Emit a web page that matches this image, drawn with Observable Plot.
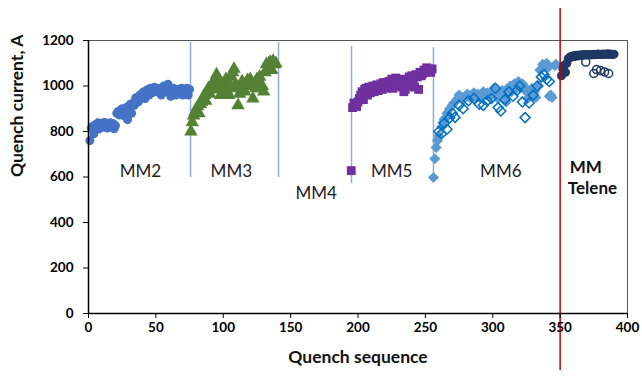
<!DOCTYPE html>
<html>
<head>
<meta charset="utf-8">
<script src="https://cdn.jsdelivr.net/npm/d3@7"></script>
<script src="https://cdn.jsdelivr.net/npm/@observablehq/plot@0.6"></script>
<style>
  body { margin: 0; background: #fff; }
  svg { font-family: Lato, "Open Sans", sans-serif; }
</style>
</head>
<body>
<div id="chart"></div>
<script>
const xTicks = [0, 50, 100, 150, 200, 250, 300, 350, 400];
const yTicks = [0, 200, 400, 600, 800, 1000, 1200];

const mm2 = [[1,760],[2,815],[3,822],[4,790],[5,830],[6,825],[7,838],[8,812],[9,830],[10,836],[11,820],[12,840],[13,828],[14,815],[15,832],[16,838],[17,822],[18,835],[19,812],[20,826],[21,880],[22,888],[23,872],[24,895],[25,900],[26,885],[27,868],[28,905],[29,852],[30,912],[31,920],[32,880],[33,925],[34,915],[35,948],[36,940],[37,930],[38,960],[39,952],[40,968],[41,975],[42,945],[43,978],[44,985],[45,960],[46,990],[47,970],[48,982],[49,995],[50,975],[51,985],[52,972],[53,990],[54,960],[55,995],[56,1000],[57,975],[58,990],[59,1008],[60,985],[61,955],[62,982],[63,990],[64,975],[65,960],[66,985],[67,970],[68,980],[69,990],[70,960],[71,975],[72,965],[73,990],[74,960],[75,985]];

const mm3 = [[76,800],[77,840],[78,870],[79,885],[80,895],[81,910],[82,880],[83,920],[84,930],[85,945],[86,960],[87,935],[88,975],[89,990],[90,965],[91,1000],[92,1010],[93,985],[94,1030],[95,1050],[96,1020],[97,985],[98,960],[99,1005],[100,995],[101,1015],[102,1030],[103,975],[104,960],[105,1000],[106,1040],[107,1060],[108,1075],[109,1010],[110,990],[111,915],[112,965],[113,1000],[114,1020],[115,1010],[116,975],[117,1000],[118,1025],[119,1010],[120,1030],[121,1000],[122,945],[123,1010],[124,990],[125,1030],[126,1020],[127,1040],[128,990],[129,1000],[130,975],[131,1060],[132,1095],[133,1080],[134,1100],[135,1105],[136,1070],[137,1110],[138,1095],[139,1100]];

const mm5 = [[195,628],[196,905],[197,925],[198,915],[199,910],[200,930],[201,945],[202,960],[203,975],[204,940],[205,985],[206,990],[207,960],[208,995],[209,970],[210,985],[211,1000],[212,975],[213,990],[214,1005],[215,980],[216,1000],[217,1010],[218,985],[219,1015],[220,1000],[221,990],[222,1015],[223,1020],[224,1005],[225,1030],[226,990],[227,1020],[228,1035],[229,1010],[230,1025],[231,1000],[232,1030],[233,995],[234,975],[235,985],[236,1000],[237,1010],[238,1040],[239,1025],[240,1045],[241,1020],[242,995],[243,1050],[244,1040],[245,985],[246,1060],[247,1045],[248,1055],[249,1070],[250,1060],[251,1080],[252,1065],[253,1075],[254,1060],[255,1075]];

const mm6Filled = [[256,598],[257,680],[258,730],[259,760],[260,780],[262,820],[263,840],[264,855],[266,880],[267,870],[268,900],[270,915],[271,925],[273,935],[274,945],[275,960],[277,950],[278,940],[280,955],[281,965],[283,950],[284,960],[286,970],[287,955],[289,965],[290,950],[292,960],[293,975],[295,960],[296,970],[298,955],[299,965],[301,990],[302,975],[304,945],[305,965],[307,980],[308,960],[310,930],[311,990],[313,1000],[314,975],[316,1010],[317,985],[319,1020],[320,995],[322,1010],[323,1000],[325,975],[326,945],[328,960],[329,990],[331,975],[332,950],[334,1000],[335,1070],[337,1095],[338,1085],[340,1100],[341,1080],[342,955],[343,960],[344,950],[346,1090],[347,1095]];

const mm6Open = [[260,800],[262,790],[264,835],[266,810],[268,860],[270,880],[272,862],[275,915],[278,900],[282,935],[286,945],[290,920],[293,915],[296,935],[299,945],[302,990],[304,905],[306,890],[309,940],[312,975],[315,955],[318,980],[320,1000],[322,930],[324,861],[327,925],[330,960],[333,1000],[336,1040],[338,1050],[340,1030],[342,1020]];

const teleneFilled = [[351,1045],[352,1075],[353,1090],[354,1060],[355,1100],[356,1120],[357,1125],[358,1130],[359,1128],[360,1133],[361,1130],[362,1135],[363,1132],[364,1136],[365,1134],[366,1137],[367,1135],[368,1138],[369,1136],[370,1138],[371,1137],[372,1139],[373,1136],[374,1138],[375,1140],[376,1137],[377,1139],[378,1141],[379,1138],[380,1140],[381,1139],[382,1141],[383,1138],[384,1140],[385,1142],[386,1139],[387,1141],[388,1140],[389,1138],[390,1140]];

const teleneOpen = [[369,1105],[375,1055],[377,1072],[380,1068],[383,1062],[386,1055]];

// section divider lines: [x, yFrom, yTo]
const dividers = [[75.7, 598, 1191], [141, 598, 1191], [195.2, 571, 1174], [256, 593, 1168]];
// Telene boundary
const redLine = [[350, -250, 1341]];

const sectionLabels = ["MM2", "MM3", "MM4", "MM5", "MM6"];
const sectionLabelX = [38.6, 106, 169, 225, 306];
const sectionLabelY = [624, 624, 527, 624, 624];
const teleneLabels = ["MM", "Telene"];
const teleneLabelX = [369, 374];
const teleneLabelY = [642, 549];

const secLab = sectionLabels.map((t, i) => ({t, x: sectionLabelX[i], y: sectionLabelY[i]}));
const telLab = teleneLabels.map((t, i) => ({t, x: teleneLabelX[i], y: teleneLabelY[i]}));

const chart = Plot.plot({
  width: 642,
  height: 376,
  marginLeft: 88,
  marginRight: 15,
  marginTop: 40,
  marginBottom: 63,
  style: {fontFamily: "Lato, 'Open Sans', sans-serif", background: "#fff"},
  x: {domain: [0, 400]},
  y: {domain: [0, 1200]},
  marks: [
    Plot.frame({stroke: "#555", strokeWidth: 1}),
    Plot.ruleX(dividers, {x: d => d[0], y1: d => d[1], y2: d => d[2], stroke: "#8FAADC", strokeWidth: 1.5}),
    Plot.dot(mm2, {x: d => d[0], y: d => d[1], r: 4.5, fill: "#4472C4", stroke: "none"}),
    Plot.dot(mm3, {x: d => d[0], y: d => d[1], symbol: "triangle", r: 5, fill: "#548235", stroke: "none"}),
    Plot.dot(mm5, {x: d => d[0], y: d => d[1], symbol: "square", r: 5, fill: "#7030A0", stroke: "none"}),
    Plot.dot(mm6Filled, {x: d => d[0], y: d => d[1], symbol: "diamond2", r: 5, fill: "#5B9BD5", stroke: "none"}),
    Plot.dot(mm6Open, {x: d => d[0], y: d => d[1], symbol: "diamond2", r: 4.5, fill: "none", stroke: "#0070C0", strokeWidth: 1.5}),
    Plot.dot(teleneFilled, {x: d => d[0], y: d => d[1], r: 4.5, fill: "#203864", stroke: "none"}),
    Plot.dot(teleneOpen, {x: d => d[0], y: d => d[1], r: 4, fill: "none", stroke: "#203864", strokeWidth: 1.5}),
    Plot.ruleX(redLine, {x: d => d[0], y1: d => d[1], y2: d => d[2], stroke: "#C00000", strokeWidth: 1.5}),
    Plot.ruleY([0], {stroke: "#000", strokeWidth: 1.5}),
    Plot.ruleX([0], {stroke: "#000", strokeWidth: 1.5}),
    Plot.axisX({ticks: xTicks, tickFormat: d => String(d), tickSize: 5, tickPadding: 4, fontSize: 13.5, fontWeight: "bold", label: null, stroke: "#000"}),
    Plot.axisY({ticks: yTicks, tickFormat: d => String(d), tickSize: 5, tickPadding: 10, fontSize: 13.5, fontWeight: "bold", label: null, stroke: "#000"}),
    Plot.text(secLab, {x: "x", y: "y", text: "t", fontSize: 17, fill: "#222"}),
    Plot.text(telLab, {x: "x", y: "y", text: "t", fontSize: 17, fontWeight: "bold", fill: "#111"}),
    Plot.text(["Quench sequence"], {frameAnchor: "bottom", dy: 49, fontSize: 17.5, fontWeight: "bold", fill: "#111"}),
    Plot.text(["Quench current, A"], {frameAnchor: "left", dx: -71, rotate: -90, fontSize: 17.5, fontWeight: "bold", fill: "#111"})
  ]
});
document.getElementById("chart").appendChild(chart);
</script>
</body>
</html>
